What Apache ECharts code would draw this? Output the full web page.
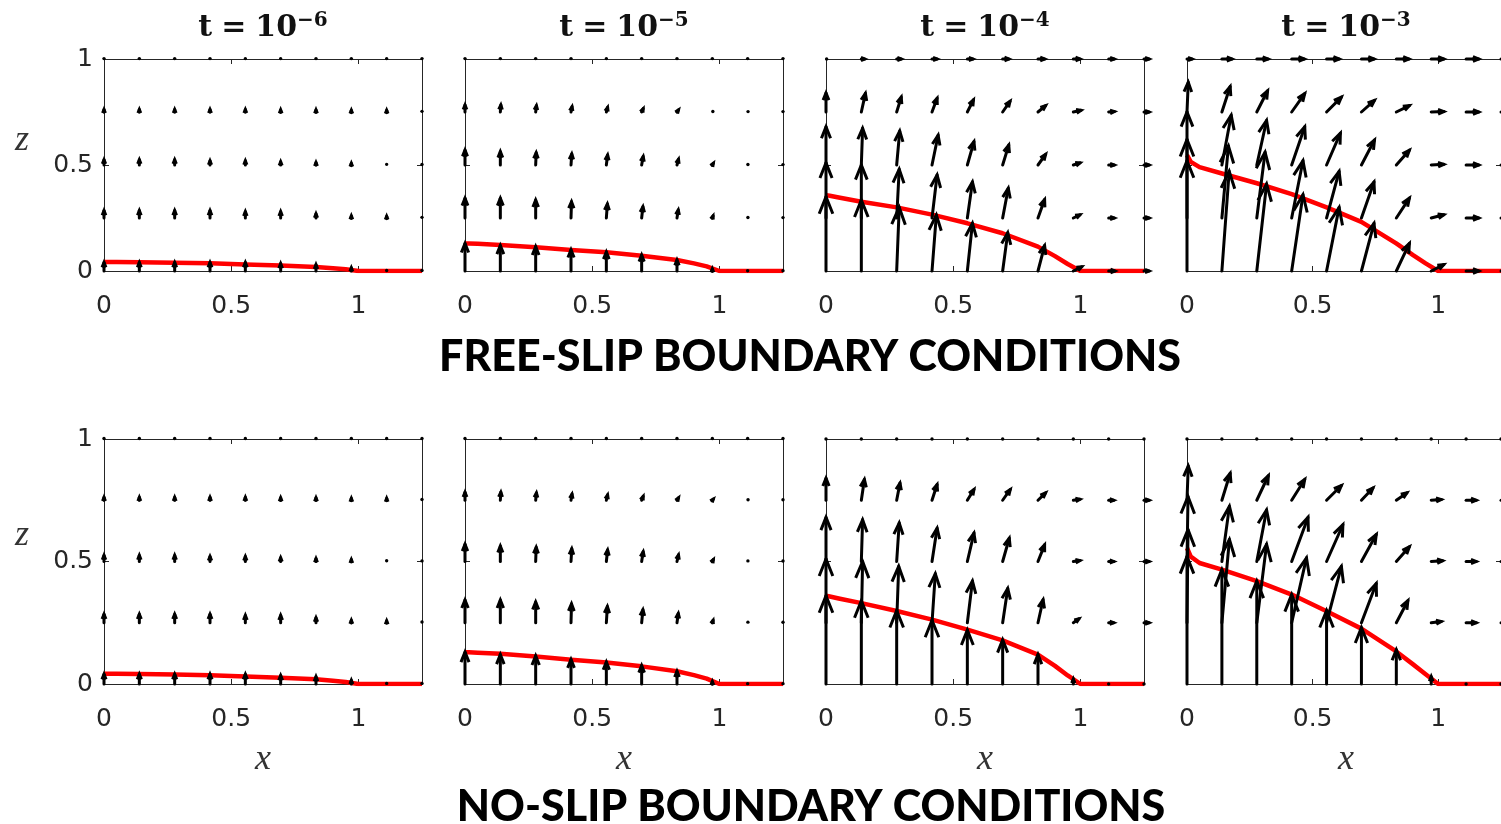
<!DOCTYPE html>
<html><head><meta charset="utf-8">
<script src="https://cdn.jsdelivr.net/npm/echarts@6/dist/echarts.min.js"></script>
<style>html,body{margin:0;padding:0;background:#fff}#c{width:1501px;height:824px}</style>
</head><body><div id="c"></div>
<script>
// ---------- DATA ----------
const xGrid = [0, 0.1389, 0.2778, 0.4167, 0.5556, 0.6944, 0.8333, 0.9722, 1.1111, 1.25];
const zGrid = [0, 0.25, 0.5, 0.75, 1];
const timeExponents = ['\u22126', '\u22125', '\u22124', '\u22123'];
const xTickValues = [0, 0.5, 1];
const zTickValues = [0, 0.5, 1];
const captions = ['FREE-SLIP BOUNDARY CONDITIONS', 'NO-SLIP BOUNDARY CONDITIONS'];

// interface curve sample positions
const curveX = [0, 0.015, 0.05, 0.139, 0.278, 0.417, 0.556, 0.694, 0.833, 0.9, 0.95, 1.0, 1.25];
const heightT1 = [0.042, 0.042, 0.042, 0.041, 0.039, 0.036, 0.031, 0.026, 0.019, 0.013, 0.008, 0, 0];
const heightT2 = [0.13, 0.13, 0.128, 0.123, 0.112, 0.099, 0.088, 0.072, 0.052, 0.036, 0.022, 0, 0];
const freeSlipHeightT3 = [0.358, 0.355, 0.347, 0.327, 0.30, 0.266, 0.225, 0.178, 0.115, 0.07, 0.033, 0, 0];
const noSlipHeightT3 = [0.36, 0.357, 0.349, 0.33, 0.298, 0.263, 0.222, 0.178, 0.12, 0.074, 0.035, 0, 0];
const freeSlipHeightT4 = [0.547, 0.515, 0.49, 0.46, 0.414, 0.363, 0.30, 0.232, 0.13, 0.075, 0.036, 0, 0];
const noSlipHeightT4 = [0.555, 0.52, 0.494, 0.467, 0.42, 0.365, 0.297, 0.226, 0.133, 0.08, 0.04, 0, 0];

// velocity arrows: rows are z = 0, 0.25, 0.5, 0.75, 1 ; columns follow xGrid
const arrowDxT1 = [
  [0,0,0,0,0,0,0,0,0,0],[0,0,0,0,0,0,0,0,0,0],[0,0,0,0,0,0,0,0,0,0],[0,0,0,0,0,0,0,0,0,0],[0,0,0,0,0,0,0,0,0,0]];
const arrowDzT1 = [
  [0.04, 0.04, 0.04, 0.04, 0.04, 0.035, 0.03, 0.015, 0.005, 0.005],
  [0.035, 0.035, 0.035, 0.035, 0.03, 0.03, 0.02, 0.01, 0.008, 0.006],
  [0.025, 0.025, 0.025, 0.02, 0.02, 0.015, 0.012, 0.008, 0.006, 0.005],
  [0.012, 0.012, 0.012, 0.012, 0.012, 0.01, 0.01, 0.008, 0.008, 0.006],
  [0.004, 0.004, 0.004, 0.004, 0.004, 0.004, 0.004, 0.004, 0.004, 0.004]];
const arrowDxT2 = [
  [0, 0, 0, 0, 0, 0, 0, 0, 0, 0],
  [0, 0, 0, 0.002, 0.004, 0.005, 0.005, 0.003, 0.002, 0],
  [0, 0, 0.002, 0.003, 0.005, 0.006, 0.006, 0.004, 0.002, 0],
  [0, 0.002, 0.003, 0.004, 0.005, 0.006, 0.006, 0.004, 0.003, 0],
  [0, 0, 0, 0, 0, 0, 0, 0, 0, 0]];
const arrowDzT2 = [
  [0.13, 0.12, 0.115, 0.10, 0.09, 0.075, 0.052, 0.01, 0.003, 0.003],
  [0.093, 0.093, 0.085, 0.077, 0.066, 0.053, 0.038, 0.01, 0.005, 0.004],
  [0.07, 0.063, 0.058, 0.052, 0.047, 0.04, 0.027, 0.008, 0.005, 0.004],
  [0.033, 0.033, 0.03, 0.025, 0.022, 0.016, 0.01, 0.005, 0.004, 0.004],
  [0.004, 0.004, 0.004, 0.004, 0.004, 0.004, 0.004, 0.004, 0.004, 0.004]];
const freeSlipDxT3 = [
  [0, 0, 0.01, 0.017, 0.02, 0.02, 0.026, 0.033, 0.024, 0.02],
  [0, 0, 0.01, 0.02, 0.02, 0.022, 0.026, 0.026, 0.022, 0.02],
  [0, 0.005, 0.012, 0.024, 0.026, 0.024, 0.03, 0.026, 0.022, 0.02],
  [0, 0.016, 0.018, 0.02, 0.024, 0.029, 0.03, 0.03, 0.022, 0.02],
  [0.005, 0.013, 0.018, 0.02, 0.022, 0.024, 0.026, 0.026, 0.022, 0.02]];
const freeSlipDzT3 = [
  [0.35, 0.335, 0.30, 0.264, 0.225, 0.18, 0.12, 0.02, 0, 0],
  [0.26, 0.25, 0.23, 0.203, 0.17, 0.14, 0.087, 0.015, 0, 0],
  [0.18, 0.173, 0.16, 0.14, 0.11, 0.094, 0.05, 0.01, 0, 0],
  [0.09, 0.088, 0.07, 0.065, 0.057, 0.05, 0.03, 0.008, 0.002, 0],
  [0, 0, 0, 0, 0, 0, 0, 0, 0, 0]];
const noSlipDxT3 = [
  [0, 0, 0, 0, 0, 0, 0, 0, 0, 0],
  [0, 0.005, 0.008, 0.013, 0.02, 0.02, 0.02, 0.022, 0.02, 0.02],
  [0, 0.005, 0.01, 0.02, 0.026, 0.026, 0.026, 0.026, 0.02, 0.02],
  [0, 0.012, 0.013, 0.02, 0.026, 0.03, 0.03, 0.026, 0.02, 0.02],
  [0, 0, 0, 0, 0, 0, 0, 0, 0, 0]];
const noSlipDzT3 = [
  [0.36, 0.34, 0.30, 0.26, 0.22, 0.18, 0.12, 0.02, 0, 0],
  [0.26, 0.25, 0.23, 0.20, 0.17, 0.14, 0.094, 0.016, 0, 0],
  [0.18, 0.17, 0.157, 0.136, 0.116, 0.095, 0.068, 0.004, 0, 0],
  [0.09, 0.085, 0.07, 0.064, 0.044, 0.044, 0.03, 0.004, 0, 0],
  [0, 0, 0, 0, 0, 0, 0, 0, 0, 0]];
const freeSlipDxT4 = [
  [0, 0.029, 0.039, 0.045, 0.05, 0.05, 0.052, 0.05, 0.05, 0.05],
  [0, 0.026, 0.033, 0.045, 0.05, 0.05, 0.052, 0.05, 0.05, 0.05],
  [0, 0.037, 0.039, 0.052, 0.055, 0.052, 0.052, 0.05, 0.05, 0.05],
  [0.005, 0.033, 0.043, 0.052, 0.059, 0.052, 0.052, 0.05, 0.05, 0.05],
  [0.02, 0.04, 0.045, 0.05, 0.05, 0.05, 0.05, 0.05, 0.05, 0.05]];
const freeSlipDzT4 = [
  [0.52, 0.47, 0.41, 0.36, 0.30, 0.225, 0.13, 0.03, 0, 0],
  [0.37, 0.34, 0.31, 0.27, 0.22, 0.17, 0.094, 0.015, 0, 0],
  [0.25, 0.235, 0.21, 0.18, 0.15, 0.118, 0.07, 0.003, 0, 0],
  [0.14, 0.12, 0.10, 0.087, 0.07, 0.055, 0.03, 0.002, 0, 0],
  [0, 0, 0, 0, 0, 0, 0, 0, 0, 0]];
const noSlipDxT4 = [
  [0, 0, 0, 0, 0, 0, 0, 0, 0, 0],
  [0.004, 0.03, 0.039, 0.059, 0.059, 0.059, 0.046, 0.04, 0.04, 0.04],
  [0.004, 0.03, 0.039, 0.065, 0.065, 0.059, 0.052, 0.045, 0.04, 0.04],
  [0.005, 0.033, 0.046, 0.052, 0.059, 0.046, 0.042, 0.04, 0.04, 0.04],
  [0, 0, 0, 0, 0, 0, 0, 0, 0, 0]];
const noSlipDzT4 = [
  [0.52, 0.467, 0.42, 0.365, 0.30, 0.23, 0.14, 0.03, 0, 0],
  [0.38, 0.34, 0.32, 0.265, 0.23, 0.16, 0.09, 0.005, 0, 0],
  [0.265, 0.225, 0.21, 0.18, 0.15, 0.11, 0.06, 0.003, 0, 0],
  [0.14, 0.11, 0.10, 0.085, 0.06, 0.05, 0.03, 0.003, 0, 0],
  [0, 0, 0, 0, 0, 0, 0, 0, 0, 0]];

// ---------- PANEL SETUP ----------
const panels = [
  // row 0 : free slip
  {dx: arrowDxT1, dz: arrowDzT1, h: heightT1},
  {dx: arrowDxT2, dz: arrowDzT2, h: heightT2},
  {dx: freeSlipDxT3, dz: freeSlipDzT3, h: freeSlipHeightT3},
  {dx: freeSlipDxT4, dz: freeSlipDzT4, h: freeSlipHeightT4},
  // row 1 : no slip
  {dx: arrowDxT1, dz: arrowDzT1, h: heightT1},
  {dx: arrowDxT2, dz: arrowDzT2, h: heightT2},
  {dx: noSlipDxT3, dz: noSlipDzT3, h: noSlipHeightT3},
  {dx: noSlipDxT4, dz: noSlipDzT4, h: noSlipHeightT4}
];

const colLeft = [104, 465, 826, 1187];
const rowTop = [59, 439];
const rowHeight = [212, 245];
const panelWidth = 318;
const axisColor = '#262626';
const tickFont = {fontFamily: '"DejaVu Sans", sans-serif', fontSize: 25, color: axisColor};

const grid = [], xAxis = [], yAxis = [], series = [], graphic = [];

function renderArrow(params, api) {
  const x = api.value(0), z = api.value(1), dx = api.value(2), dz = api.value(3);
  const p0 = api.coord([x, z]);
  const p1 = api.coord([x + dx, z + dz]);
  const vx = p1[0] - p0[0], vy = p1[1] - p0[1];
  const L = Math.hypot(vx, vy);
  if (L < 1.5) {
    return {type: 'circle', shape: {cx: p0[0] + vx / 2, cy: p0[1] + vy / 2, r: 1.7}, style: {fill: '#000'}};
  }
  const ux = vx / L, uy = vy / L;
  const hl = Math.min(0.22 * L + 3, 17);
  const hw = hl * 0.4;
  const bx = p1[0] - ux * hl, by = p1[1] - uy * hl;
  return {
    type: 'group',
    children: [
      {type: 'line', shape: {x1: p0[0], y1: p0[1], x2: p1[0], y2: p1[1]},
       style: {stroke: '#000', lineWidth: 3, lineCap: 'round'}},
      {type: 'polyline', shape: {points: [[bx - uy * hw, by + ux * hw], [p1[0], p1[1]], [bx + uy * hw, by - ux * hw]]},
       style: {stroke: '#000', lineWidth: 3, fill: null, lineJoin: 'miter'}}
    ]
  };
}

panels.forEach((p, k) => {
  const row = Math.floor(k / 4), col = k % 4;
  grid.push({left: colLeft[col], top: rowTop[row], width: panelWidth, height: rowHeight[row], containLabel: false});
  const base = {min: 0, type: 'value', gridIndex: k, splitLine: {show: false},
    axisLine: {show: true, onZero: false, lineStyle: {color: axisColor, width: 1}}};
  xAxis.push(Object.assign({}, base, {max: 1.25, interval: 0.5, position: 'bottom',
    axisTick: {show: true, inside: true, length: 5, customValues: xTickValues, lineStyle: {color: axisColor}},
    axisLabel: Object.assign({show: true, margin: 23, customValues: xTickValues, formatter: v => String(v)}, tickFont)}));
  xAxis.push(Object.assign({}, base, {max: 1.25, interval: 0.5, position: 'top',
    axisTick: {show: true, inside: true, length: 5, customValues: xTickValues, lineStyle: {color: axisColor}},
    axisLabel: {show: false}}));
  yAxis.push(Object.assign({}, base, {max: 1, interval: 0.5, position: 'left',
    axisTick: {show: true, inside: true, length: 5, customValues: zTickValues, lineStyle: {color: axisColor}},
    axisLabel: Object.assign({show: col === 0, margin: 11, customValues: zTickValues, formatter: v => String(v)}, tickFont)}));
  yAxis.push(Object.assign({}, base, {max: 1, interval: 0.5, position: 'right',
    axisTick: {show: true, inside: true, length: 5, customValues: zTickValues, lineStyle: {color: axisColor}},
    axisLabel: {show: false}}));

  series.push({
    type: 'line', xAxisIndex: 2 * k, yAxisIndex: 2 * k, showSymbol: false, silent: true,
    smooth: false, z: 2,
    lineStyle: {color: '#ff0000', width: 4.5, join: 'round'},
    data: curveX.map((x, i) => [x, p.h[i]])
  });
  const arrows = [];
  zGrid.forEach((z, j) => xGrid.forEach((x, i) => arrows.push([x, z, p.dx[j][i], p.dz[j][i]])));
  series.push({
    type: 'custom', xAxisIndex: 2 * k, yAxisIndex: 2 * k, silent: true, z: 3, clip: false,
    renderItem: renderArrow, encode: {x: 0, y: 1}, data: arrows
  });

  const cx = colLeft[col] + panelWidth / 2;
  if (row === 0) {
    graphic.push({type: 'text', x: cx, y: 28, style: {
      text: '{a|t}{e|=}{a|10}{s|' + timeExponents[col] + '}', align: 'center', verticalAlign: 'middle',
      rich: {
        a: {fontFamily: 'DejaVu Serif', fontWeight: 'bold', fontSize: 30, lineHeight: 34, fill: '#111'},
        e: {fontFamily: 'DejaVu Serif', fontWeight: 'bold', fontSize: 30, lineHeight: 34, fill: '#111', padding: [0, 9, 0, 9]},
        s: {fontFamily: 'DejaVu Serif', fontWeight: 'bold', fontSize: 20, lineHeight: 20, verticalAlign: 'top', fill: '#111'}
      }}});
  } else {
    graphic.push({type: 'text', x: cx, y: 760, style: {
      text: 'x', align: 'center', verticalAlign: 'middle',
      font: 'italic 36px "Liberation Serif", serif', fill: '#333'}});
  }
  if (col === 0) {
    graphic.push({type: 'text', x: 22, y: row === 0 ? 141 : 536, style: {
      text: 'z', align: 'center', verticalAlign: 'middle',
      font: 'italic 36px "Liberation Serif", serif', fill: '#333'}});
  }
});

graphic.push({type: 'text', x: 810, y: 357, style: {text: captions[0], align: 'center', verticalAlign: 'middle',
  font: '900 43px Lato, "Open Sans", sans-serif', fill: '#000'}});
graphic.push({type: 'text', x: 811, y: 807, style: {text: captions[1], align: 'center', verticalAlign: 'middle',
  font: '900 43px Lato, "Open Sans", sans-serif', fill: '#000'}});

const chart = echarts.init(document.getElementById('c'), null, {renderer: 'canvas'});
chart.setOption({animation: false, backgroundColor: '#fff', grid, xAxis, yAxis, series, graphic});
</script>
</body></html>
